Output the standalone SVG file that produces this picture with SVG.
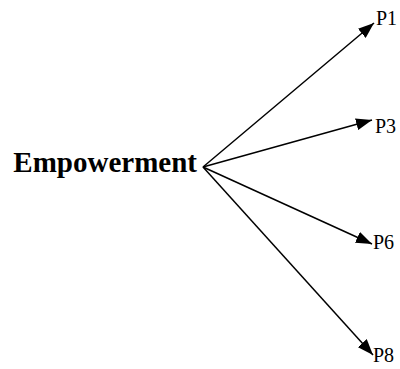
<svg xmlns="http://www.w3.org/2000/svg" width="400" height="369" viewBox="0 0 400 369">
  <style>
    .edge { stroke: #000; stroke-width: 1.5; fill: none; marker-end: url(#arrow); }
    .lbl { font-family: "Liberation Serif", "Times New Roman", serif; font-size: 20px; fill: #000; }
    .root { font-family: "Liberation Serif", "Times New Roman", serif; font-size: 29px; font-weight: bold; fill: #000; text-anchor: end; }
  </style>
  <defs>
    <marker id="arrow" viewBox="0 0 16 12" refX="16" refY="6" markerWidth="16" markerHeight="12" markerUnits="userSpaceOnUse" orient="auto">
      <path d="M0,0 L16,6 L0,12 z" fill="#000"/>
    </marker>
  </defs>
  <rect width="400" height="369" fill="#fff"/>
  <g id="connectors">
    <line class="edge" x1="203" y1="167" x2="374" y2="23"/>
    <line class="edge" x1="203" y1="167" x2="372" y2="120"/>
    <line class="edge" x1="203" y1="167" x2="372" y2="244"/>
    <line class="edge" x1="203" y1="167" x2="373" y2="355"/>
  </g>
  <g id="empowerment">
    <text class="root" x="197" y="172">Empowerment</text>
  </g>
  <g id="p1"><text class="lbl" x="376" y="25">P1</text></g>
  <g id="p3"><text class="lbl" x="375" y="133">P3</text></g>
  <g id="p6"><text class="lbl" x="373" y="249">P6</text></g>
  <g id="p8"><text class="lbl" x="373" y="362">P8</text></g>
</svg>
